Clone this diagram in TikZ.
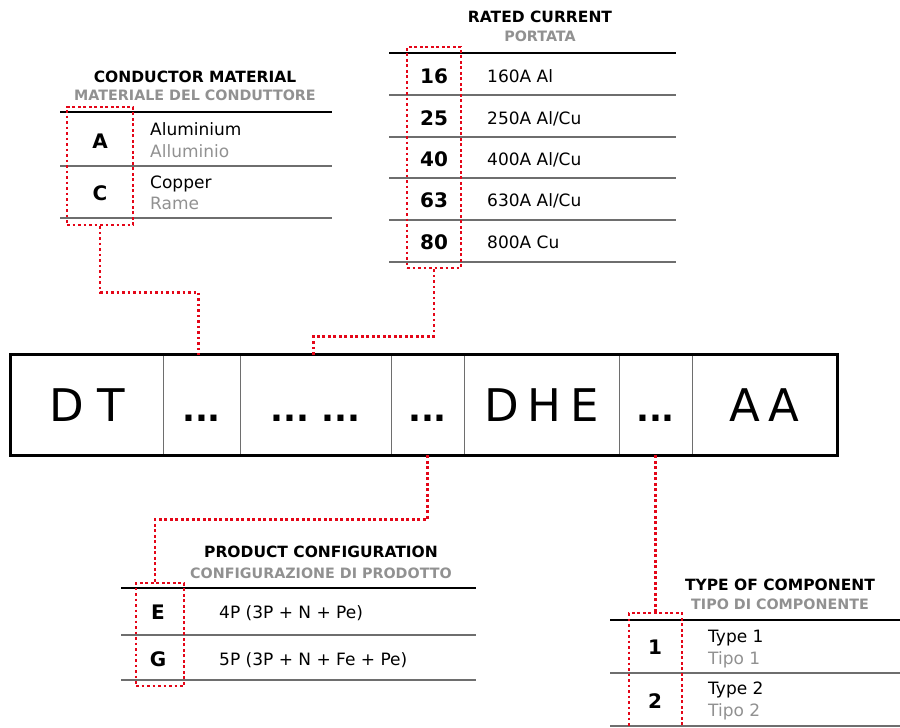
\documentclass[tikz,border=0pt]{standalone}
\usepackage{fontspec}
\setmainfont{DejaVu Sans}
\definecolor{selred}{RGB}{228,6,24}
\definecolor{subgray}{RGB}{145,145,145}
\definecolor{rowgray}{RGB}{110,110,110}
\begin{document}
\begin{tikzpicture}[x=1pt,y=-1pt]
	\tikzstyle{every node}=[inner sep=0pt, font=\fontsize{17pt}{20pt}\selectfont]
	\tikzstyle{cell}=[draw=rowgray, line width=0.9pt, minimum height=100pt, text height=33pt, text depth=0pt, font=\fontsize{45pt}{50pt}\selectfont]
	\tikzstyle{dots}=[font=\fontsize{34pt}{40pt}\selectfont\bfseries]
	\tikzstyle{title}=[anchor=base, font=\fontsize{15.5pt}{18pt}\selectfont\bfseries]
	\tikzstyle{subtitle}=[anchor=base, text=subgray, font=\fontsize{14.3pt}{17pt}\selectfont\bfseries]
	\tikzstyle{code}=[anchor=base, font=\fontsize{20pt}{24pt}\selectfont\bfseries]
	\tikzstyle{entry}=[anchor=base west]
	\tikzstyle{entrygray}=[entry, text=subgray]
	\tikzstyle{rulethick}=[line width=2.6pt, black]
	\tikzstyle{rule}=[line width=1.1pt, rowgray]
	\tikzstyle{reddot}=[draw=selred, line width=2.6pt, dash pattern=on 2.6pt off 2.9pt]
	\tikzstyle{redbox}=[reddot, minimum width=0pt, minimum height=0pt]
	
	\useasboundingbox (0,0) rectangle (900,728);
	
	% code cells
	\node[cell, minimum width=152pt] (dt) at (87,405) {D\hspace{0.3em}T};
	\node[cell, dots, minimum width=77pt] (c2) at (201.5,405) {...};
	\node[cell, dots, minimum width=151pt] (c3) at (315.5,405) {...\hspace{0.35em}...};
	\node[cell, dots, minimum width=73pt] (c4) at (427.5,405) {...};
	\node[cell, minimum width=155pt] (dhe) at (541.5,405) {D\hspace{0.2em}H\hspace{0.2em}E};
	\node[cell, dots, minimum width=73pt] (c6) at (655.5,405) {...};
	\node[cell, minimum width=145pt] (aa) at (764.5,405) {A\hspace{0.2em}A};
	\draw[rulethick] (dt.north west) rectangle (aa.south east);
	
	% conductor material
	\node[title] (mattitle) at (195,82) {CONDUCTOR MATERIAL};
	\node[subtitle] (matsub) at (195,100) {MATERIALE DEL CONDUTTORE};
	\draw[rulethick] (60,112) -- (332,112);
	\draw[rule] (60,166) -- (332,166);
	\draw[rule] (60,218) -- (332,218);
	\node[code] (matA) at (100,148) {A};
	\node[code] (matC) at (100,200) {C};
	\node[entry] (alen) at (150,135) {Aluminium};
	\node[entrygray] (alit) at (150,157) {Alluminio};
	\node[entry] (cuen) at (150,188) {Copper};
	\node[entrygray] (cuit) at (150,209) {Rame};
	
	% rated current
	\node[title] (ratetitle) at (540,23) {RATED CURRENT};
	\node[subtitle] (ratesub) at (540,41) {PORTATA};
	\draw[rulethick] (389,53) -- (676,53);
	\foreach \yy in {95,137,178,220,262}
		\draw[rule] (389,\yy) -- (676,\yy);
	\node[code] (r16) at (434,83) {16};
	\node[code] (r25) at (434,125) {25};
	\node[code] (r40) at (434,166) {40};
	\node[code] (r63) at (434,207) {63};
	\node[code] (r80) at (434,249) {80};
	\node[entry] (d16) at (487,82) {160A Al};
	\node[entry] (d25) at (487,124) {250A Al/Cu};
	\node[entry] (d40) at (487,165) {400A Al/Cu};
	\node[entry] (d63) at (487,206) {630A Al/Cu};
	\node[entry] (d80) at (487,248) {800A Cu};
	
	% product configuration
	\node[title] (cfgtitle) at (321,557) {PRODUCT CONFIGURATION};
	\node[subtitle] (cfgsub) at (321,578) {CONFIGURAZIONE DI PRODOTTO};
	\draw[rulethick] (121,588) -- (476,588);
	\draw[rule] (121,635) -- (476,635);
	\draw[rule] (121,680) -- (476,680);
	\node[code] (cfgE) at (158,619) {E};
	\node[code] (cfgG) at (158,666) {G};
	\node[entry] (e4p) at (219,618) {4P (3P + N + Pe)};
	\node[entry] (e5p) at (219,665) {5P (3P + N + Fe + Pe)};
	
	% type of component
	\node[title] (typetitle) at (780,590) {TYPE OF COMPONENT};
	\node[subtitle] (typesub) at (780,609) {TIPO DI COMPONENTE};
	\draw[rulethick] (610,620) -- (900,620);
	\draw[rule] (610,673) -- (900,673);
	\draw[rule] (610,726) -- (900,726);
	\node[code] (type1) at (655,654) {1};
	\node[code] (type2) at (655,708) {2};
	\node[entry] (t1en) at (708,642) {Type 1};
	\node[entrygray] (t1it) at (708,664) {Tipo 1};
	\node[entry] (t2en) at (708,694) {Type 2};
	\node[entrygray] (t2it) at (708,716) {Tipo 2};
	
	% selections
	\node[redbox, minimum width=66pt, minimum height=118pt] (matsel) at (100,166) {};
	\node[redbox, minimum width=54pt, minimum height=221pt] (ratesel) at (434,157.5) {};
	\node[redbox, minimum width=48pt, minimum height=103pt] (cfgsel) at (160,634.5) {};
	\node[redbox, minimum width=53pt, minimum height=125pt] (typesel) at (655.5,675.5) {};
	
	\draw[reddot] (matsel.south) -- ++(0,66) -| ([xshift=-3pt]c2.north);
	\draw[reddot] (ratesel.south) -- ++(0,67) -| ([xshift=-2pt]c3.north);
	\draw[reddot] (c4.south) -- ++(0,64) -| ([xshift=-5pt]cfgsel.north);
	\draw[reddot] (c6.south) -- (typesel.north);
	
\end{tikzpicture}
\end{document}
